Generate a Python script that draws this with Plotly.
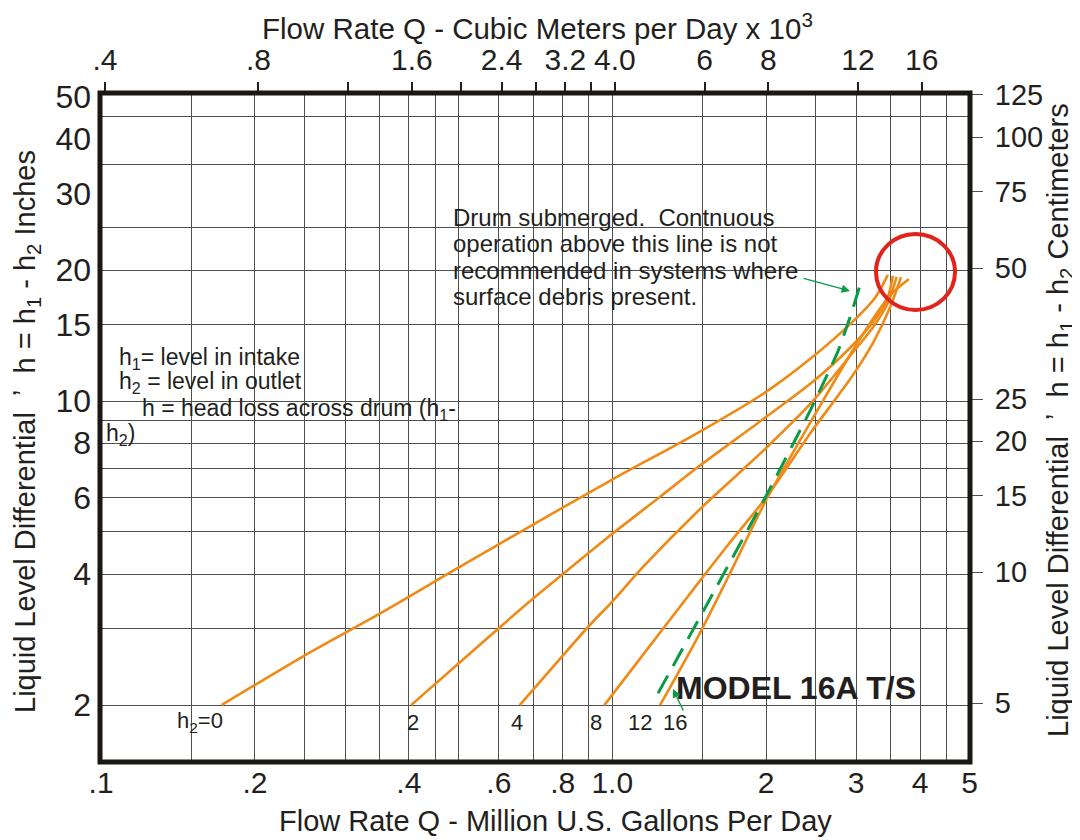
import math
import plotly.graph_objects as go

# ---------------- DATA (flow in MGD, head loss in inches) ----------------
h0_q = [0.172, 0.25, 0.35, 0.5, 0.7, 1.0, 1.47, 2.0, 2.45, 2.95, 3.27, 3.46]
h0_h = [2.0, 2.6, 3.24, 4.14, 5.2, 6.6, 8.45, 10.5, 12.55, 15.2, 17.3, 19.5]

h2_q = [0.404, 0.492, 0.589, 0.689, 0.796, 0.978, 1.246, 1.471, 1.951, 2.474, 2.946, 3.237, 3.447, 3.541]
h2_h = [2.0, 2.45, 2.95, 3.46, 3.98, 4.85, 6.05, 7.05, 9.0, 11.1, 13.4, 15.2, 17.1, 19.4]

h4_q = [0.659, 0.78, 0.9, 1.0, 1.15, 1.47, 1.8, 2.0, 2.45, 2.95, 3.24, 3.46, 3.6]
h4_h = [2.0, 2.51, 3.04, 3.46, 4.16, 5.58, 6.95, 7.8, 9.9, 12.9, 14.8, 16.8, 19.3]

h8_q = [0.965, 1.154, 1.471, 1.682, 2.004, 2.452, 2.946, 3.237, 3.494, 3.671]
h8_h = [2.0, 2.63, 3.81, 4.66, 6.02, 8.5, 11.4, 13.6, 16.4, 19.27]

h16_q = [1.24, 1.471, 1.682, 2.004, 2.334, 2.67, 2.946, 3.267, 3.494, 3.805]
h16_h = [2.0, 2.87, 3.92, 5.95, 8.15, 10.7, 13.0, 15.7, 17.5, 19.07]

sub_q = [1.229, 1.511, 2.004, 2.441, 2.755, 2.920, 3.083]
sub_h = [2.13, 3.31, 6.08, 9.53, 12.89, 15.6, 19.17]

curves = [("h2=0", h0_q, h0_h), ("h2=2", h2_q, h2_h), ("h2=4", h4_q, h4_h),
          ("h2=8", h8_q, h8_h), ("h2=16", h16_q, h16_h)]

# axis ticks / grid
x_grid = [0.1, 0.15, 0.2, 0.25, 0.3, 0.35, 0.4, 0.45, 0.5, 0.6, 0.7, 0.8, 0.9, 1.0,
          1.5, 2, 2.5, 3, 3.5, 4, 4.5, 5]
x_labels = [0.1, 0.2, 0.4, 0.6, 0.8, 1.0, 2, 3, 4, 5]
x_text = [".1", ".2", ".4", ".6", ".8", "1.0", "2", "3", "4", "5"]
y_grid = [2, 3, 4, 5, 6, 7, 8, 9, 10, 15, 20, 25, 35, 45]
y_labels = [2, 4, 6, 8, 10, 15, 20, 30, 40, 50]
y_text = ["2", "4", "6", "8", "10", "15", "20", "30", "40", "50"]
top_ticks = [0.4, 0.8, 1.2, 1.6, 2.0, 2.4, 2.8, 3.2, 3.6, 4.0, 6, 8, 12, 16]
top_text = [".4", ".8", "", "1.6", "", "2.4", "", "3.2", "", "4.0", "6", "8", "12", "16"]
cm_ticks = [5, 10, 15, 20, 25, 50, 75, 100, 125]

ORANGE = "#EF8A17"
GREEN = "#0A9A48"
RED = "#E2231A"
INK = "#231F20"
GRID = "#505050"
FONT = "Liberation Sans, Arial, sans-serif"

# The page body has an 8px margin; size the figure so the plot lands where the
# reference has it (page pixel coordinates below).
OFF = 8
FIG_W, FIG_H = 1080 - OFF, 840 - OFF
L, R, T, B = 100, 970, 93, 762          # plot area in page pixels
def px(x):
    return (x - L) / (R - L)
def py(y):
    return (B - y) / (B - T)

fig = go.Figure()

for name, q, h in curves:
    fig.add_trace(go.Scatter(x=q, y=h, mode="lines", name=name,
                             line=dict(color=ORANGE, width=2.6, shape="spline", smoothing=0.8),
                             showlegend=False))

fig.add_trace(go.Scatter(x=sub_q, y=sub_h, mode="lines", name="submerged",
                         line=dict(color=GREEN, width=3, dash="20px,11px", shape="spline", smoothing=0.5),
                         showlegend=False))

# invisible traces to activate secondary axes
fig.add_trace(go.Scatter(x=[1], y=[10], xaxis="x2", yaxis="y", mode="markers",
                         marker=dict(opacity=0), showlegend=False, hoverinfo="skip"))
fig.add_trace(go.Scatter(x=[1], y=[10], xaxis="x", yaxis="y2", mode="markers",
                         marker=dict(opacity=0), showlegend=False, hoverinfo="skip"))

fig.update_layout(
    width=FIG_W, height=FIG_H,
    margin=dict(l=L - OFF, r=FIG_W - (R - OFF), t=T - OFF, b=FIG_H - (B - OFF), autoexpand=False),
    paper_bgcolor="white", plot_bgcolor="white",
    font=dict(family=FONT, color=INK),
    xaxis=dict(type="log", range=[math.log10(0.0995), math.log10(5.01)],
               tickmode="array", tickvals=x_labels, ticktext=x_text,
               showgrid=True, gridcolor=GRID, gridwidth=1.4,
               minor=dict(tickmode="array", tickvals=x_grid, showgrid=True,
                          gridcolor=GRID, gridwidth=1.4, ticks=""),
               ticks="", tickfont=dict(size=30, color=INK), zeroline=False,
               showline=False, automargin=False),
    xaxis2=dict(type="log", overlaying="x", side="top",
                range=[math.log10(0.391), math.log10(19.9)],
                tickmode="array", tickvals=top_ticks, ticktext=top_text,
                ticks="outside", ticklen=10, tickwidth=1.5, tickcolor=INK,
                showgrid=False, tickfont=dict(size=30, color=INK), showline=False,
                automargin=False),
    yaxis=dict(type="log", range=[math.log10(1.48), math.log10(51.05)],
               tickmode="array", tickvals=y_labels, ticktext=y_text,
               showgrid=False,
               minor=dict(tickmode="array", tickvals=y_grid, showgrid=True,
                          gridcolor=GRID, gridwidth=1.4, ticks=""),
               ticks="", tickfont=dict(size=32, color=INK), zeroline=False,
               ticklabelstandoff=8, showline=False, automargin=False),
    yaxis2=dict(type="log", overlaying="y", side="right",
                range=[math.log10(3.66), math.log10(126.3)],
                tickmode="array", tickvals=cm_ticks, ticktext=[str(v) for v in cm_ticks],
                ticks="outside", ticklen=12, tickwidth=1.2, tickcolor=GRID,
                showgrid=False, tickfont=dict(size=29, color=INK), ticklabelstandoff=6,
                automargin=False),
)

shapes = []
# white boxes covering grid under text blocks
shapes.append(dict(type="rect", xref="paper", yref="paper", x0=px(123), x1=px(450),
                   y0=py(462), y1=py(335), fillcolor="white", line=dict(width=0), layer="between"))
shapes.append(dict(type="rect", xref="paper", yref="paper", x0=px(445), x1=px(800),
                   y0=py(313), y1=py(200), fillcolor="white", line=dict(width=0), layer="between"))
# red highlight circle
shapes.append(dict(type="circle", xref="paper", yref="paper", x0=px(876), x1=px(955),
                   y0=py(310), y1=py(234), line=dict(color=RED, width=4), layer="above"))
# heavy frame
shapes.append(dict(type="rect", xref="paper", yref="paper", x0=0, x1=1, y0=0, y1=1,
                   line=dict(color="#1a1714", width=5), layer="above"))
fig.update_layout(shapes=shapes)

ann = []
def txt(text, x, y, size=22, xanchor="left", yanchor="middle", **kw):
    ann.append(dict(text=text, x=px(x), y=py(y), xref="paper", yref="paper",
                    showarrow=False, xanchor=xanchor, yanchor=yanchor,
                    font=dict(size=size, color=INK, family=FONT), **kw))

# axis titles
txt("Flow Rate Q - Cubic Meters per Day x 10<sup>3</sup>", 537, 27, size=29.5, xanchor="center")
txt("Flow Rate Q - Million U.S. Gallons Per Day", 555, 821, size=29, xanchor="center")
txt("Liquid Level Differential  \u02bc  h = h<sub>1</sub> - h<sub>2</sub> Inches", 27, 432,
    size=29, xanchor="center", textangle=-90)
txt("Liquid Level Differential  \u02bc  h = h<sub>1</sub> - h<sub>2</sub> Centimeters", 1060, 420,
    size=29, xanchor="center", textangle=-90)

# definitions box
txt("h<sub>1</sub>= level in intake", 117, 358, size=23)
txt("h<sub>2</sub> = level in outlet", 117, 383, size=23)
txt("h = head loss across drum (h<sub>1</sub>-", 140, 409, size=23)
txt("h<sub>2</sub>)", 104, 434, size=23)

# submerged note
txt("Drum submerged.\u00a0 Contnuous", 451, 217, size=24)
txt("operation above this line is not", 451, 243, size=24)
txt("recommended in systems where", 451, 270, size=24)
txt("surface debris present.", 451, 296, size=24)

# curve labels
txt("h<sub>2</sub>=0", 200, 722, size=22, xanchor="center")
txt("2", 413, 722, size=22, xanchor="center")
txt("4", 517, 722, size=22, xanchor="center")
txt("8", 596, 722, size=22, xanchor="center")
txt("12", 640, 722, size=22, xanchor="center")
txt("16", 675, 722, size=22, xanchor="center")

# model name
txt("<b>MODEL 16A T/S</b>", 796, 688, size=32, xanchor="center")

# green arrows
ann.append(dict(x=px(850), y=py(291), xref="paper", yref="paper", ax=-48, ay=-13,
                showarrow=True, arrowhead=2, arrowsize=1.2,
                arrowwidth=1.4, arrowcolor=GREEN, text=""))
ann.append(dict(x=px(673), y=py(689), xref="paper", yref="paper", ax=11, ay=23,
                showarrow=True, arrowhead=2, arrowsize=1.2,
                arrowwidth=1.4, arrowcolor=GREEN, text=""))

fig.update_layout(annotations=ann)

fig.write_html("out.html")
